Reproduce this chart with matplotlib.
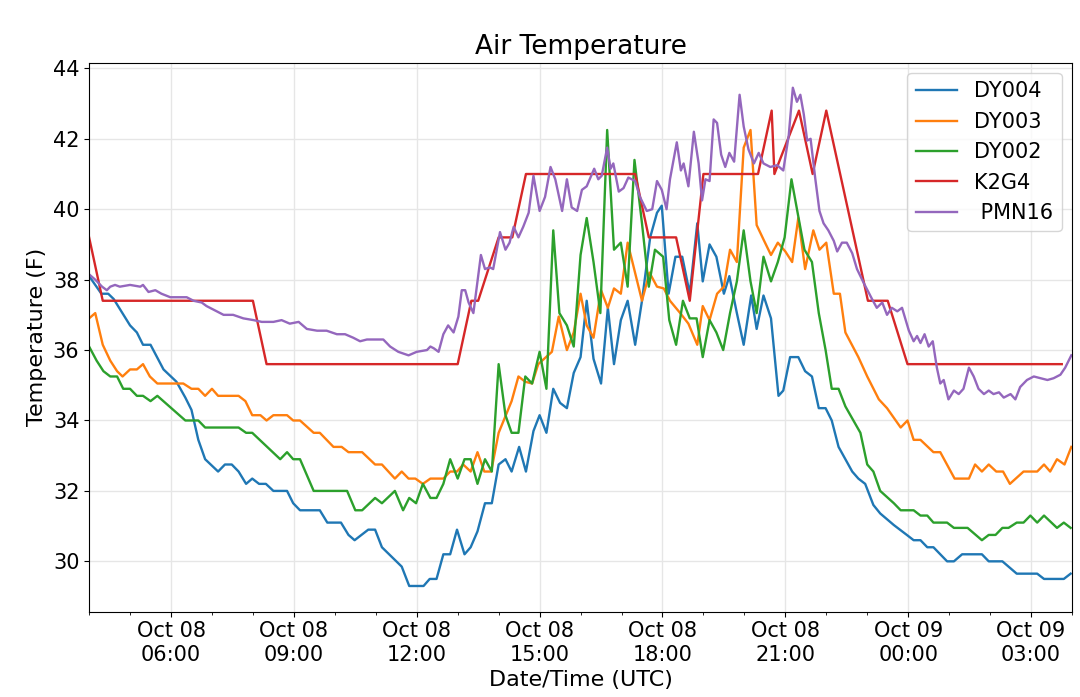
import pandas as pd
import matplotlib
matplotlib.use("Agg")
import matplotlib.pyplot as plt
import matplotlib.dates as mdates

# minutes after Oct 08 04:00 UTC, temperature (F)
dy004_min = [0, 18, 28, 36, 60, 70, 79, 90, 109, 128, 141, 150, 160, 170, 189, 199, 209, 219, 230, 239,
             249, 259, 270, 290, 299, 309, 338, 349, 369, 380, 389, 409, 419, 429, 458, 469, 490, 499, 509, 519,
             529, 539, 550, 559, 569, 580, 590, 600, 610, 619, 630, 640, 651, 660, 670, 680, 690, 700, 710, 720,
             729, 739, 750, 760, 769, 779, 789, 800, 810, 822, 832, 839, 849, 859, 869, 880, 891, 899, 909, 919,
             930, 938, 949, 959, 970, 978, 988, 999, 1010, 1017, 1027, 1039, 1049, 1059, 1069, 1079, 1088, 1098,
             1108, 1118, 1127, 1137, 1149, 1159, 1179, 1198, 1208, 1218, 1228, 1237, 1257, 1267, 1279, 1308, 1318,
             1338, 1359, 1389, 1399, 1428, 1438]
dy004_temp = [38.1, 37.6, 37.6, 37.45, 36.7, 36.5, 36.15, 36.15, 35.45, 35.1, 34.65, 34.3, 33.45, 32.9, 32.55,
              32.75, 32.75, 32.55, 32.2, 32.35, 32.2, 32.2, 32.0, 32.0, 31.65, 31.45, 31.45, 31.1, 31.1, 30.75,
              30.6, 30.9, 30.9, 30.4, 29.85, 29.3, 29.3, 29.5, 29.5, 30.2, 30.2, 30.9, 30.2, 30.4, 30.85, 31.65,
              31.65, 32.75, 32.9, 32.55, 33.25, 32.55, 33.7, 34.15, 33.65, 34.9, 34.5, 34.35, 35.35, 35.8, 37.4,
              35.75, 35.05, 37.2, 35.6, 36.85, 37.4, 36.15, 37.4, 39.2, 39.9, 40.1, 37.6, 38.65, 38.65, 37.6, 39.6,
              37.95, 39.0, 38.65, 37.6, 38.1, 37.05, 36.15, 37.55, 36.6, 37.55, 36.9, 34.7, 34.85, 35.8, 35.8,
              35.4, 35.25, 34.35, 34.35, 34.0, 33.25, 32.9, 32.55, 32.35, 32.2, 31.6, 31.36, 31.03, 30.75, 30.6,
              30.6, 30.4, 30.4, 30.0, 30.0, 30.2, 30.2, 30.0, 30.0, 29.65, 29.65, 29.5, 29.5, 29.65]

dy003_min = [0, 9, 20, 31, 41, 49, 60, 70, 79, 89, 100, 138, 150, 160, 170, 180, 189, 219, 229, 239, 251, 260,
             270, 290, 299, 309, 329, 338, 358, 370, 380, 400, 419, 429, 448, 458, 468, 478, 489, 500, 519, 529,
             539, 548, 559, 569, 579, 589, 600, 619, 629, 639, 649, 658, 678, 688, 700, 710, 720, 729, 739, 750,
             760, 769, 779, 789, 810, 821, 832, 842, 851, 866, 878, 891, 899, 909, 920, 930, 939, 949, 959, 969,
             978, 989, 999, 1009, 1020, 1030, 1039, 1049, 1061, 1070, 1080, 1091, 1100, 1108, 1127, 1140, 1157,
             1169, 1189, 1199, 1208, 1218, 1237, 1247, 1268, 1289, 1298, 1308, 1318, 1329, 1339, 1349, 1369, 1389,
             1399, 1408, 1418, 1429, 1439]
dy003_temp = [36.9, 37.05, 36.15, 35.7, 35.4, 35.25, 35.45, 35.45, 35.6, 35.25, 35.05, 35.05, 34.9, 34.9, 34.7,
              34.9, 34.7, 34.7, 34.55, 34.15, 34.15, 34.0, 34.15, 34.15, 34.0, 34.0, 33.65, 33.65, 33.25, 33.25,
              33.1, 33.1, 32.75, 32.75, 32.35, 32.55, 32.35, 32.35, 32.2, 32.35, 32.35, 32.55, 32.55, 32.75, 32.55,
              33.1, 32.55, 32.55, 33.65, 34.55, 35.25, 35.1, 35.05, 35.6, 35.95, 36.95, 36.0, 36.5, 37.6, 36.7,
              36.35, 37.7, 37.2, 37.75, 37.6, 39.05, 37.4, 38.2, 37.8, 37.75, 37.4, 37.05, 36.75, 36.15, 37.25,
              36.85, 37.6, 37.8, 38.85, 38.5, 41.75, 42.25, 39.55, 39.1, 38.7, 39.05, 38.8, 38.5, 39.75, 38.3,
              39.4, 38.85, 39.05, 37.6, 37.6, 36.5, 35.8, 35.25, 34.6, 34.35, 33.8, 34.0, 33.45, 33.45, 33.1, 33.1,
              32.35, 32.35, 32.75, 32.55, 32.75, 32.55, 32.55, 32.2, 32.55, 32.55, 32.75, 32.55, 32.9, 32.75, 33.25]

dy002_min = [0, 11, 21, 31, 41, 50, 60, 70, 79, 90, 100, 141, 160, 170, 219, 230, 239, 280, 290, 299, 309, 329,
             378, 390, 400, 419, 429, 448, 460, 469, 479, 489, 500, 509, 519, 529, 540, 550, 559, 569, 580, 590,
             600, 610, 619, 629, 639, 649, 660, 670, 680, 689, 700, 710, 720, 729, 739, 749, 759, 769, 779, 789,
             799, 810, 820, 829, 841, 850, 860, 870, 880, 890, 899, 909, 919, 929, 939, 949, 959, 969, 978, 988,
             999, 1009, 1019, 1029, 1038, 1048, 1059, 1069, 1079, 1088, 1098, 1108, 1130, 1140, 1149, 1159, 1179,
             1189, 1208, 1218, 1228, 1237, 1257, 1267, 1287, 1308, 1318, 1328, 1338, 1347, 1359, 1369, 1379, 1389,
             1399, 1418, 1428, 1438]
dy002_temp = [36.1, 35.7, 35.4, 35.25, 35.25, 34.9, 34.9, 34.7, 34.7, 34.55, 34.7, 34.0, 34.0, 33.8, 33.8, 33.65,
              33.65, 32.9, 33.1, 32.9, 32.9, 32.0, 32.0, 31.45, 31.45, 31.8, 31.65, 32.0, 31.45, 31.8, 31.65, 32.2,
              31.8, 31.8, 32.2, 32.9, 32.35, 32.9, 32.9, 32.2, 32.9, 32.55, 35.6, 34.15, 33.65, 33.65, 35.25,
              35.05, 35.95, 34.9, 39.4, 37.05, 36.7, 36.1, 38.7, 39.75, 38.5, 37.05, 42.25, 38.85, 39.05, 37.8,
              41.4, 39.6, 37.8, 38.85, 38.65, 36.85, 36.15, 37.4, 36.9, 36.9, 35.8, 36.85, 36.5, 36.0, 37.05,
              37.95, 39.4, 37.95, 37.05, 38.65, 37.95, 38.5, 39.2, 40.85, 39.9, 38.85, 38.5, 37.05, 36.0, 34.9,
              34.9, 34.4, 33.65, 32.75, 32.55, 32.0, 31.65, 31.45, 31.45, 31.3, 31.3, 31.1, 31.1, 30.95, 30.95,
              30.6, 30.75, 30.75, 30.95, 30.95, 31.1, 31.1, 31.3, 31.1, 31.3, 30.95, 31.1, 30.95]

k2g4_min = [0, 20, 240, 260, 540, 560, 570, 600, 620, 640, 800, 820, 860, 880, 900, 980, 1000, 1004, 1040,
            1060, 1080, 1141, 1170, 1199, 1425]
k2g4_temp = [39.2, 37.4, 37.4, 35.6, 35.6, 37.4, 37.4, 39.2, 39.2, 41.0, 41.0, 39.2, 39.2, 37.4, 41.0, 41.0,
             42.8, 41.0, 42.8, 41.0, 42.8, 37.4, 37.4, 35.6, 35.6]

pmn16_min = [0, 9, 19, 26, 31, 38, 45, 60, 75, 79, 87, 97, 106, 119, 133, 143, 153, 165, 172, 182, 197, 211,
             226, 241, 253, 270, 282, 294, 307, 319, 334, 348, 363, 375, 387, 397, 407, 431, 441, 453, 468, 480,
             495, 500, 505, 512, 519, 526, 534, 541, 546, 551, 556, 563, 568, 574, 580, 587, 592, 602, 610, 616,
             622, 629, 636, 644, 651, 660, 668, 676, 683, 693, 700, 707, 715, 722, 729, 740, 746, 751, 759, 764,
             768, 776, 783, 790, 800, 807, 817, 825, 832, 839, 846, 851, 861, 867, 871, 878, 886, 893, 898, 903,
             909, 915, 920, 926, 932, 938, 945, 953, 959, 966, 974, 981, 988, 998, 1008, 1017, 1025, 1031, 1037,
             1042, 1047, 1052, 1057, 1064, 1070, 1076, 1083, 1091, 1096, 1103, 1110, 1118, 1125, 1135, 1147, 1154,
             1162, 1169, 1176, 1184, 1191, 1201, 1208, 1213, 1218, 1224, 1230, 1236, 1242, 1247, 1252, 1259, 1267,
             1274, 1281, 1289, 1296, 1303, 1311, 1318, 1325, 1333, 1340, 1350, 1357, 1364, 1374, 1384, 1394, 1404,
             1413, 1423, 1430, 1439]
pmn16_temp = [38.15, 38.0, 37.8, 37.7, 37.8, 37.85, 37.8, 37.85, 37.8, 37.85, 37.65, 37.7, 37.6, 37.5, 37.5,
              37.5, 37.4, 37.35, 37.25, 37.15, 37.0, 37.0, 36.9, 36.85, 36.8, 36.8, 36.85, 36.75, 36.8, 36.6,
              36.55, 36.55, 36.45, 36.45, 36.35, 36.25, 36.3, 36.3, 36.1, 35.95, 35.85, 35.95, 36.0, 36.1, 36.05,
              35.95, 36.45, 36.7, 36.5, 36.95, 37.7, 37.7, 37.35, 37.05, 37.8, 38.7, 38.3, 38.35, 38.3, 39.35,
              38.85, 39.05, 39.5, 39.2, 39.5, 39.9, 40.95, 39.95, 40.35, 41.2, 40.85, 39.95, 40.85, 40.05, 39.95,
              40.55, 40.65, 41.15, 40.85, 40.95, 41.75, 41.15, 41.3, 40.5, 40.6, 40.9, 40.8, 40.35, 39.95, 40.0,
              40.8, 40.55, 40.0, 40.85, 41.9, 41.1, 41.3, 40.65, 42.2, 41.3, 40.25, 40.85, 40.8, 42.55, 42.45,
              41.55, 41.2, 41.6, 41.35, 43.25, 42.35, 41.7, 41.3, 41.6, 41.3, 41.2, 41.25, 41.1, 42.1, 43.45, 43.05,
              43.25, 42.7, 41.95, 42.0, 40.85, 39.95, 39.6, 39.4, 39.1, 38.8, 39.05, 39.05, 38.75, 38.3, 37.9,
              37.45, 37.2, 37.35, 37.0, 37.2, 37.1, 37.2, 36.55, 36.25, 36.4, 36.2, 36.45, 36.1, 36.25, 35.5,
              35.05, 35.15, 34.6, 34.85, 34.75, 34.9, 35.5, 35.25, 34.9, 34.75, 34.85, 34.75, 34.8, 34.65, 34.75,
              34.6, 34.95, 35.15, 35.25, 35.2, 35.15, 35.2, 35.3, 35.5, 35.85]

series_names = ["DY004", "DY003", "DY002", "K2G4", " PMN16"]

inicio = pd.Timestamp("2018-10-08 04:00")


def tempos(minutos):
    return inicio + pd.to_timedelta(minutos, unit="min")


def grafico_temperatura(caminho_output_img):
    fig = plt.figure(figsize=(10.8, 6.97), dpi=100)
    ax = fig.add_subplot(111)
    fig.subplots_adjust(left=0.0825, right=0.9926, top=0.910, bottom=0.1224)

    dados = [
        (dy004_min, dy004_temp),
        (dy003_min, dy003_temp),
        (dy002_min, dy002_temp),
        (k2g4_min, k2g4_temp),
        (pmn16_min, pmn16_temp),
    ]
    for (minutos, temp), nome in zip(dados, series_names):
        ax.plot(tempos(minutos), temp, lw=1.7, label=nome)

    ax.set_xlim(inicio, inicio + pd.Timedelta(hours=24))
    ax.set_ylim(28.57, 44.16)

    ax.xaxis.set_major_locator(mdates.HourLocator(byhour=range(0, 24, 3)))
    ax.xaxis.set_minor_locator(mdates.HourLocator())
    ax.xaxis.set_major_formatter(mdates.DateFormatter("%b %d\n%H:%M"))
    ax.set_yticks([30, 32, 34, 36, 38, 40, 42, 44])
    ax.tick_params(axis="both", which="major", labelsize=15)

    ax.grid(True, color="#e6e6e6", lw=1)
    ax.set_axisbelow(True)

    ax.set_title("Air Temperature", fontsize=19)
    ax.set_xlabel("Date/Time (UTC)", fontsize=16)
    ax.set_ylabel("Temperature (F)", fontsize=16)
    ax.legend(loc="upper right", fontsize=15)

    fig.savefig(caminho_output_img, dpi=100)


if __name__ == "__main__":
    grafico_temperatura("out.png")
